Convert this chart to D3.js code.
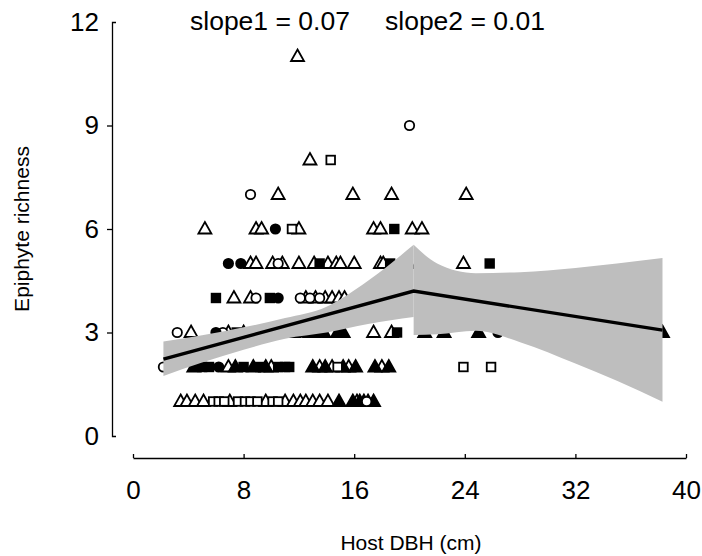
<!DOCTYPE html>
<html>
<head>
<meta charset="utf-8">
<script src="https://cdn.jsdelivr.net/npm/d3@7"></script>
<style>
  body { margin: 0; background: #fff; }
  text { font-family: "Liberation Sans", Arial, sans-serif; fill: #000; }
</style>
</head>
<body>
<div id="chart"></div>
<script>
// points: [DBH, richness]
const openTriangles = [
  [11.9, 11], [12.8, 8],
  [10.5, 7], [15.9, 7], [18.7, 7], [24.1, 7],
  [5.2, 6], [8.9, 6], [9.3, 6], [12.0, 6], [17.4, 6], [17.9, 6], [20.2, 6], [20.9, 6],
  [8.5, 5], [8.9, 5], [10.1, 5], [10.8, 5], [12.0, 5], [13.1, 5], [14.1, 5], [14.7, 5],
  [15.0, 5], [16.0, 5], [17.9, 5], [18.1, 5], [19.9, 5], [23.9, 5],
  [7.3, 4], [8.5, 4], [12.5, 4], [13.2, 4], [13.9, 4], [14.4, 4], [14.9, 4], [15.3, 4], [16.4, 4], [18.2, 4],
  [4.2, 3], [6.9, 3], [11.6, 3], [17.4, 3], [18.7, 3],
  [6.9, 2], [10.0, 2], [13.5, 2], [14.4, 2], [15.6, 2], [18.0, 2],
  [3.45, 1], [3.9, 1], [4.5, 1], [5.1, 1], [7.0, 1], [9.6, 1], [11.0, 1], [11.6, 1],
  [12.1, 1], [12.5, 1], [13.0, 1], [13.5, 1], [14.1, 1], [16.2, 1]
];
const filledTriangles = [
  [8.0, 3], [10.9, 3], [12.8, 3], [13.8, 3], [14.8, 3], [15.2, 3], [21.1, 3], [22.5, 3], [25.0, 3], [38.3, 3],
  [4.4, 2], [7.4, 2], [8.7, 2], [9.6, 2], [13.0, 2], [13.9, 2], [15.2, 2], [16.1, 2], [17.5, 2], [18.5, 2],
  [14.9, 1], [15.9, 1], [16.4, 1], [16.7, 1], [17.0, 1], [17.4, 1]
];
const openCircles = [
  [20.0, 9], [8.5, 7], [10.5, 5], [8.9, 4], [12.1, 4], [12.8, 4], [13.5, 4],
  [3.2, 3], [6.5, 3], [2.2, 2], [16.9, 1]
];
const filledCircles = [
  [10.3, 6], [6.9, 5], [7.8, 5], [10.5, 4], [6.0, 3], [26.4, 3], [6.2, 2]
];
const openSquares = [
  [14.3, 8], [11.5, 6], [14.8, 2], [23.9, 2], [25.9, 2],
  [5.8, 1], [6.2, 1], [6.6, 1], [7.6, 1], [8.1, 1], [8.5, 1], [9.0, 1], [10.1, 1], [10.5, 1]
];
const filledSquares = [
  [18.9, 6], [13.5, 5], [18.6, 5], [25.8, 5], [6.0, 4], [9.9, 4],
  [7.5, 3], [10.2, 3], [12.2, 3], [13.2, 3], [19.1, 3],
  [5.0, 2], [5.5, 2], [8.0, 2], [9.2, 2], [10.5, 2], [11.0, 2], [11.3, 2]
];

// segmented fit and its confidence band
const fitX = [2.2, 20.3, 38.3];
const fitY = [2.23, 4.2, 3.07];
const bandLeftX = [2.2, 5, 8, 11, 14, 17, 20.3];
const bandLeftUp = [2.74, 2.92, 3.15, 3.42, 3.75, 4.5, 5.54];
const bandLeftLo = [1.74, 2.13, 2.5, 2.82, 3.0, 3.25, 3.45];
const bandRightX = [20.3, 22, 24.8, 28, 32, 35, 38.3];
const bandRightUp = [5.54, 5.0, 4.72, 4.75, 4.87, 5.0, 5.16];
const bandRightLo = [2.93, 2.95, 3.05, 2.72, 2.1, 1.6, 0.99];

const xTicks = [0, 8, 16, 24, 32, 40];
const yTicks = [0, 3, 6, 9, 12];

const width = 702, height = 556;

const svg = d3.select("#chart").append("svg")
  .attr("width", width)
  .attr("height", height);

const x = d3.scaleLinear().domain([0, 40]).range([133, 686]);
const y = d3.scaleLinear().domain([0, 12]).range([436, 22]);

// Axes
const xAxis = svg.append("g")
  .attr("transform", "translate(0,458)")
  .call(d3.axisBottom(x).tickValues(xTicks).tickSize(-4).tickSizeOuter(0).tickPadding(23));
xAxis.selectAll("text").style("font-size", "26px");
xAxis.selectAll("path, line").attr("stroke", "#000").attr("stroke-width", 1.3);

const yAxis = svg.append("g")
  .attr("transform", "translate(112,0)")
  .call(d3.axisLeft(y).tickValues(yTicks).tickSize(5).tickSizeOuter(-4).tickPadding(8));
yAxis.selectAll("text").style("font-size", "26px");
yAxis.selectAll("path, line").attr("stroke", "#000").attr("stroke-width", 1.3);
yAxis.selectAll(".tick line").filter(d => d === 0 || d === 12).remove();

// Markers
const markers = svg.append("g").attr("stroke", "#000").attr("stroke-width", 1.8);

const tri = (px, py) => `M${px},${py - 7}L${px + 6.5},${py + 4.5}L${px - 6.5},${py + 4.5}Z`;

markers.selectAll(".ot").data(openTriangles).join("path")
  .attr("d", d => tri(x(d[0]), y(d[1]))).attr("fill", "#fff");
markers.selectAll(".ft").data(filledTriangles).join("path")
  .attr("class", "ft")
  .attr("d", d => tri(x(d[0]), y(d[1]))).attr("fill", "#000");
markers.selectAll(".oc").data(openCircles).join("circle")
  .attr("class", "oc")
  .attr("cx", d => x(d[0])).attr("cy", d => y(d[1])).attr("r", 4.7).attr("fill", "#fff");
markers.selectAll(".fc").data(filledCircles).join("circle")
  .attr("class", "fc")
  .attr("cx", d => x(d[0])).attr("cy", d => y(d[1])).attr("r", 4.7).attr("fill", "#000");
markers.selectAll(".os").data(openSquares).join("rect")
  .attr("class", "os")
  .attr("x", d => x(d[0]) - 4.3).attr("y", d => y(d[1]) - 4.3)
  .attr("width", 8.6).attr("height", 8.6).attr("fill", "#fff");
markers.selectAll(".fs").data(filledSquares).join("rect")
  .attr("class", "fs")
  .attr("x", d => x(d[0]) - 4.3).attr("y", d => y(d[1]) - 4.3)
  .attr("width", 8.6).attr("height", 8.6).attr("fill", "#000");

// Confidence band
const area = d3.area()
  .x(d => x(d.x)).y0(d => y(d.lo)).y1(d => y(d.up))
  .curve(d3.curveMonotoneX);

const leftBand = bandLeftX.map((v, i) => ({ x: v, up: bandLeftUp[i], lo: bandLeftLo[i] }));
const rightBand = bandRightX.map((v, i) => ({ x: v, up: bandRightUp[i], lo: bandRightLo[i] }));

svg.append("g").selectAll("path")
  .data([leftBand, rightBand])
  .join("path")
  .attr("d", area)
  .attr("fill", "#bebebe");

// Fitted line
svg.append("path")
  .datum(fitX.map((v, i) => [v, fitY[i]]))
  .attr("d", d3.line().x(d => x(d[0])).y(d => y(d[1])))
  .attr("fill", "none")
  .attr("stroke", "#000")
  .attr("stroke-width", 3.4);

// Labels
svg.append("text")
  .attr("x", 190).attr("y", 30)
  .style("font-size", "26.5px")
  .text("slope1 = 0.07");
svg.append("text")
  .attr("x", 385).attr("y", 30)
  .style("font-size", "26.5px")
  .text("slope2 = 0.01");

svg.append("text")
  .attr("x", 411).attr("y", 550)
  .attr("text-anchor", "middle")
  .style("font-size", "21px")
  .text("Host DBH (cm)");

svg.append("text")
  .attr("transform", "translate(29,229) rotate(-90)")
  .attr("text-anchor", "middle")
  .style("font-size", "21px")
  .text("Epiphyte richness");
</script>
</body>
</html>
